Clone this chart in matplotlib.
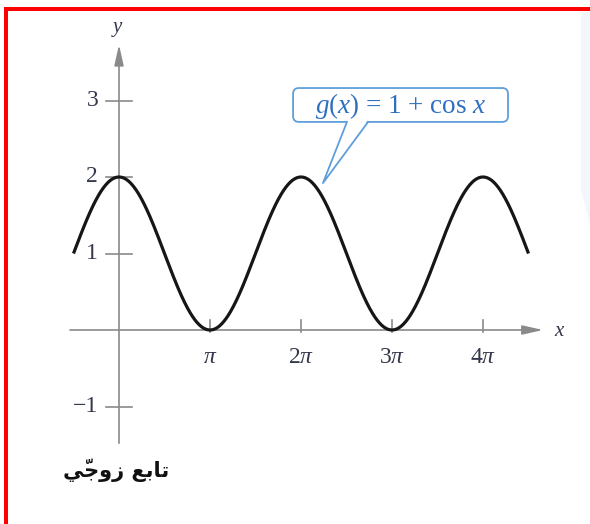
import numpy as np
import matplotlib
matplotlib.use("Agg")
import matplotlib.pyplot as plt
from matplotlib.patches import FancyBboxPatch, Polygon, Rectangle

plt.rcParams["mathtext.fontset"] = "custom"
plt.rcParams["mathtext.rm"] = "Liberation Serif"
plt.rcParams["mathtext.it"] = "Liberation Serif:italic"

# function g(x) = 1 + cos x over [-pi/2, 9pi/2]
x_start, x_end = -np.pi / 2, 9 * np.pi / 2
x_ticks = [np.pi, 2 * np.pi, 3 * np.pi, 4 * np.pi]
x_tick_labels = [r"$\pi$", r"$2\pi$", r"$3\pi$", r"$4\pi$"]
y_ticks = [3, 2, 1, -1]
y_tick_labels = ["3", "2", "1", "\u22121"]
caption = "تابع زوجيّ"

# minimal Arabic shaping: (isolated, final, initial, medial)
FORMS = {
    "ت": ("\uFE95", "\uFE96", "\uFE97", "\uFE98"),
    "ا": ("\uFE8D", "\uFE8E", None, None),
    "ب": ("\uFE8F", "\uFE90", "\uFE91", "\uFE92"),
    "ع": ("\uFEC9", "\uFECA", "\uFECB", "\uFECC"),
    "ز": ("\uFEAF", "\uFEB0", None, None),
    "و": ("\uFEED", "\uFEEE", None, None),
    "ج": ("\uFE9D", "\uFE9E", "\uFE9F", "\uFEA0"),
    "ي": ("\uFEF1", "\uFEF2", "\uFEF3", "\uFEF4"),
}
MARKS = {"\u0651", "\u064E"}


def shape_arabic(text):
    # letters keep their marks; result is in left-to-right drawing order
    clusters = []
    for ch in text:
        if ch in MARKS and clusters:
            clusters[-1][1].append(ch)
        else:
            clusters.append([ch, []])
    out = []
    for i, (ch, marks) in enumerate(clusters):
        glyph = ch
        if ch in FORMS:
            prev = clusters[i - 1][0] if i > 0 else None
            nxt = clusters[i + 1][0] if i + 1 < len(clusters) else None
            joins_prev = prev in FORMS and FORMS[prev][2] is not None
            joins_next = nxt in FORMS and FORMS[ch][2] is not None
            iso, fin, ini, med = FORMS[ch]
            if joins_prev and joins_next:
                glyph = med
            elif joins_prev:
                glyph = fin
            elif joins_next:
                glyph = ini
            else:
                glyph = iso
        out.append(glyph + "".join(marks))
    return "".join(reversed(out))


# pixel scale of the layout: 91 px per pi, 76.5 px per unit
sx = 91 / np.pi
sy = 76.5

fig = plt.figure(figsize=(5.9, 5.24), dpi=100)
ax = fig.add_axes([0, 0, 1, 1])
ax.set_xlim(-119 / sx, 471 / sx)
ax.set_ylim(-194 / sy, 330 / sy)
ax.axis("off")

axis_col = "#8a8a8a"
label_col = "#34374a"

# axes with arrowheads
head = dict(arrowstyle="-|>,head_length=1.25,head_width=0.28",
            color=axis_col, lw=1.2, shrinkA=0, shrinkB=0, mutation_scale=10)
ax.annotate("", xy=(14.64, 0), xytext=(-1.69, 0), arrowprops=head)
ax.annotate("", xy=(0, 3.73), xytext=(0, -1.48), arrowprops=head)
ax.text(15.2, 0.0, r"$x$", fontsize=15, color=label_col, ha="center", va="center")
ax.text(-0.05, 3.93, r"$y$", fontsize=15, color=label_col, ha="center", va="center")

for t, lab in zip(x_ticks, x_tick_labels):
    ax.plot([t, t], [-0.03, 0.13], color=axis_col, lw=1.2)
    ax.text(t, -0.34, lab, fontsize=17, color=label_col, ha="center", va="center")
for t, lab in zip(y_ticks, y_tick_labels):
    ax.plot([-0.45, 0.45], [t, t], color=axis_col, lw=1.2)
    ax.text(-0.72, t, lab, fontsize=17, color=label_col, family="Liberation Serif",
            ha="right", va="center")

xs = np.linspace(x_start, x_end, 800)
ax.plot(xs, 1 + np.cos(xs), color="#161616", lw=2.3, solid_capstyle="butt", zorder=3)

# callout box with pointer
box_col = "#5f9edb"
bx0, bx1, by0, by1 = 6.01, 13.43, 2.72, 3.163
box = FancyBboxPatch((bx0, by0), bx1 - bx0, by1 - by0,
                     boxstyle="round,pad=0,rounding_size=0.2",
                     mutation_aspect=sx / sy, fc="white", ec=box_col, lw=1.3, zorder=4)
ax.add_patch(box)
tip = (7.04, 1.92)
base_l, base_r = (7.87, by0), (8.60, by0)
ax.add_patch(Polygon([tip, (base_l[0] + 0.02, by0 + 0.02), (base_r[0] - 0.02, by0 + 0.02)],
                     closed=True, fc="white", ec="none", zorder=5))
ax.plot([base_l[0], tip[0], base_r[0]], [by0, tip[1], by0], color=box_col, lw=1.3,
        zorder=6)
ax.text((bx0 + bx1) / 2, 2.93, r"$g(x)$ = 1 + cos $x$", fontsize=19.5,
        family="Liberation Serif", color="#2f6fbf", ha="center", va="center", zorder=7)

ax.text(-0.1, -1.83, shape_arabic(caption), fontsize=15, fontweight="bold",
        family="DejaVu Sans", color="#111111", ha="center", va="center")

# frame on the top and left edges
fig.patches.append(Rectangle((4 / 590, 0), 3.5 / 590, (524 - 7) / 524,
                             transform=fig.transFigure, fc="#ff0000", ec="none"))
fig.patches.append(Rectangle((4 / 590, 1 - 11 / 524), 586 / 590, 4 / 524,
                             transform=fig.transFigure, fc="#ff0000", ec="none"))
fig.patches.append(Polygon([(581 / 590, 1 - 12 / 524), (1, 1 - 12 / 524), (1, 1 - 225 / 524),
                            (581 / 590, 1 - 190 / 524)], closed=True,
                           transform=fig.transFigure, fc="#f3f7fb", ec="none"))

fig.savefig("out.png", dpi=100)
